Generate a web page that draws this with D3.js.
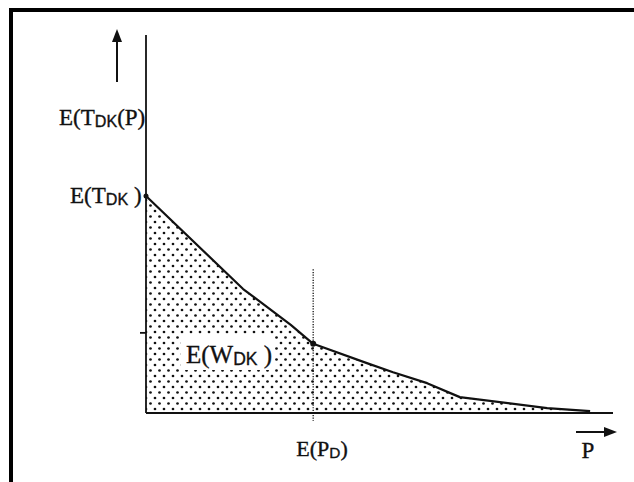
<!DOCTYPE html>
<html>
<head>
<meta charset="utf-8">
<script src="https://cdn.jsdelivr.net/npm/d3@7"></script>
<style>
  html, body { margin: 0; padding: 0; background: #fff; }
  svg { display: block; }
  text { font-family: "Liberation Serif", "DejaVu Serif", serif; fill: #111; stroke: #111; stroke-width: 0.35; }
</style>
</head>
<body>
<svg id="chart" width="634" height="482"></svg>
<script>
// Expected transit time E(T_DK(P)) as a function of the price P
const pValues = [0, 20.8, 31.0, 35.8, 47.3, 52.9, 60.2, 67.2, 85.9, 95.1];
const tValues = [57.4, 32.8, 23.3, 18.3, 13.2, 10.8, 7.9, 4.2, 1.3, 0.5];
const expectedPrice = 35.8;      // E(P_D)
const markedTime = 21.2;         // small tick on the vertical axis

const svg = d3.select("#chart");
const ink = "#111";

const x = d3.scaleLinear().domain([0, 100]).range([146, 613]);
const y = d3.scaleLinear().domain([0, 100]).range([413, 35]);

const pts = pValues.map((p, i) => ({ p, t: tValues[i] }));

// dotted shading pattern
const defs = svg.append("defs");
const pat = defs.append("pattern")
  .attr("id", "dots").attr("patternUnits", "userSpaceOnUse")
  .attr("width", 9).attr("height", 11);
pat.append("circle").attr("cx", 2).attr("cy", 2).attr("r", 1.35).attr("fill", ink);
pat.append("circle").attr("cx", 6.5).attr("cy", 7.5).attr("r", 1.35).attr("fill", ink);

// frame (top and left rules)
svg.append("rect").attr("x", 9).attr("y", 8).attr("width", 625).attr("height", 4).attr("fill", "#000");
svg.append("rect").attr("x", 9).attr("y", 8).attr("width", 4).attr("height", 474).attr("fill", "#000");

// shaded area under the curve
const area = d3.area().x(d => x(d.p)).y0(y(0)).y1(d => y(d.t));
svg.append("path").datum(pts).attr("d", area).attr("fill", "url(#dots)");

// white box behind the area label
svg.append("rect").attr("x", 181).attr("y", 334).attr("width", 94).attr("height", 36).attr("fill", "#fff");

// E(P_D) dotted vertical
svg.append("line")
  .attr("x1", x(expectedPrice)).attr("x2", x(expectedPrice))
  .attr("y1", y(38)).attr("y2", y(0) + 8)
  .attr("stroke", ink).attr("stroke-width", 1.3).attr("stroke-dasharray", "1.2,1.4");

// axes
svg.append("line").attr("x1", x(0)).attr("x2", x(0)).attr("y1", y(100)).attr("y2", y(0))
  .attr("stroke", ink).attr("stroke-width", 1.8);
svg.append("line").attr("x1", x(0)).attr("x2", x(100)).attr("y1", y(0)).attr("y2", y(0))
  .attr("stroke", ink).attr("stroke-width", 2.2);
svg.append("line").attr("x1", x(0) - 6).attr("x2", x(0)).attr("y1", y(markedTime)).attr("y2", y(markedTime))
  .attr("stroke", ink).attr("stroke-width", 1.8);

// curve
const line = d3.line().x(d => x(d.p)).y(d => y(d.t));
svg.append("path").datum(pts).attr("d", line)
  .attr("fill", "none").attr("stroke", ink).attr("stroke-width", 2.2).attr("stroke-linejoin", "round");
svg.append("circle").attr("cx", x(0)).attr("cy", y(tValues[0])).attr("r", 2.5).attr("fill", ink);
svg.append("circle").attr("cx", x(expectedPrice)).attr("cy", y(18.3)).attr("r", 3).attr("fill", ink);

// direction arrows
svg.append("line").attr("x1", 117).attr("x2", 117).attr("y1", 82).attr("y2", 40)
  .attr("stroke", ink).attr("stroke-width", 2);
svg.append("path").attr("d", "M117,29 L112,42 L122,42 Z").attr("fill", ink);
svg.append("line").attr("x1", 576).attr("x2", 606).attr("y1", 432).attr("y2", 432)
  .attr("stroke", ink).attr("stroke-width", 2);
svg.append("path").attr("d", "M617,432 L604,427 L604,437 Z").attr("fill", ink);

// labels with small, slightly lowered subscripts
function label(xp, yp, parts, size, anchor) {
  const t = svg.append("text").attr("x", xp).attr("y", yp)
    .attr("font-size", size).attr("text-anchor", anchor || "start");
  let shifted = false;
  parts.forEach(([s, sub]) => {
    const ts = t.append("tspan").text(s);
    if (sub) {
      ts.attr("font-size", size * 0.7).attr("font-family", "Liberation Sans, Arial, sans-serif").attr("dy", 2);
      shifted = true;
    } else if (shifted) {
      ts.attr("dy", -2);
      shifted = false;
    }
  });
  return t;
}
label(59, 125, [["E(T"], ["DK", true], ["(P)"]], 23);
label(70, 203, [["E(T"], ["DK", true], [" )"]], 23);
label(186, 363, [["E(W"], ["DK", true], [" )"]], 25);
label(322, 456, [["E(P"], ["D", true], [")"]], 22, "middle");
label(588, 458, [["P"]], 23, "middle");
</script>
</body>
</html>
